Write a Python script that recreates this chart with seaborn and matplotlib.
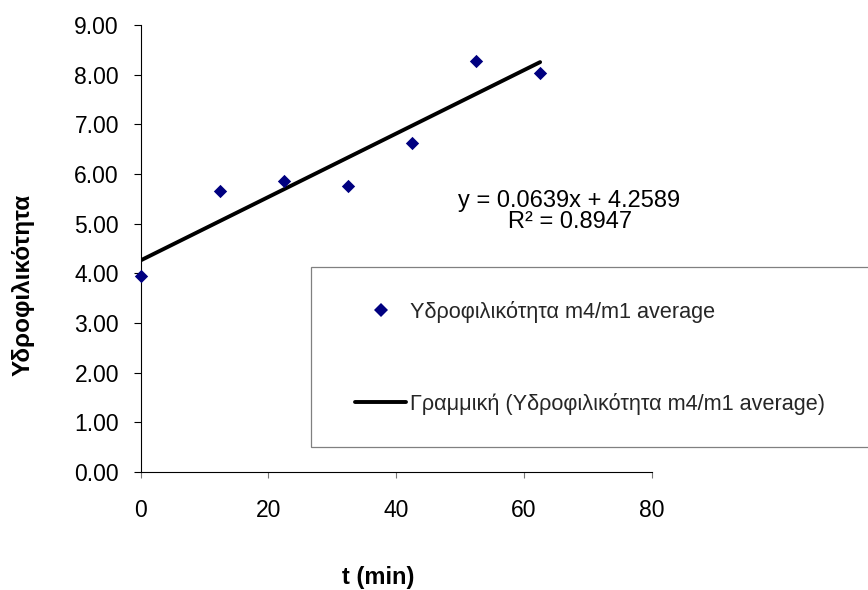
import numpy as np
import pandas as pd
import matplotlib
matplotlib.use("Agg")
import matplotlib.pyplot as plt
import seaborn as sns
from matplotlib.lines import Line2D
from matplotlib.patches import Rectangle

# Measured hydrophilicity (m4/m1 average) against soaking time
time_min = [0, 12.5, 22.5, 32.5, 42.5, 52.5, 62.5]
hydrophilicity = [3.95, 5.66, 5.86, 5.76, 6.63, 8.27, 8.04]

# Linear trend line as reported
trend_slope = 0.0639
trend_intercept = 4.2589
trend_r2 = 0.8947

x_ticks = [0, 20, 40, 60, 80]
y_ticks = [0, 1, 2, 3, 4, 5, 6, 7, 8, 9]

series_label = "Υδροφιλικότητα m4/m1 average"
trend_label = "Γραμμική (Υδροφιλικότητα m4/m1 average)"
x_label = "t (min)"
y_label = "Υδροφιλικότητα"

sns.set_theme(style="white")
plt.rcParams["font.family"] = ["Liberation Sans", "DejaVu Sans"]

W, H = 868, 590
fig = plt.figure(figsize=(W / 100, H / 100), dpi=100)
fig.patch.set_facecolor("white")

# axes frame in pixel terms: x from 140.5 to 652, y from 25 to 472
ax = fig.add_axes([140.5 / W, (H - 472) / H, (652 - 140.5) / W, (472 - 25) / H])
ax.set_facecolor("none")

df = pd.DataFrame({"t": time_min, "h": hydrophilicity})
navy = "#000080"
marker_area = 46
line_w = 2.8

trend_x = np.array([min(time_min), max(time_min)])
trend_y = trend_slope * trend_x + trend_intercept
sns.lineplot(x=trend_x, y=trend_y, color="black", linewidth=line_w, ax=ax,
             zorder=2, legend=False)
sns.scatterplot(data=df, x="t", y="h", marker="D", s=marker_area, color=navy,
                linewidth=0, ax=ax, zorder=3, clip_on=False, legend=False)

ax.set_xlim(0, 80)
ax.set_ylim(0, 9)
ax.set_xticks(x_ticks)
ax.set_xticklabels([str(v) for v in x_ticks])
ax.set_yticks(y_ticks)
ax.set_yticklabels([f"{v:.2f}" for v in y_ticks])
sns.despine(ax=ax)
for side in ("left", "bottom"):
    ax.spines[side].set_color("black")
    ax.spines[side].set_linewidth(0.8)

ax.tick_params(axis="y", direction="out", length=5, width=0.8, color="black",
               labelsize=16.5, labelcolor="black", pad=10.5, left=True)
ax.tick_params(axis="x", direction="out", length=4.3, width=0.8, color="#777777",
               labelsize=16.5, labelcolor="black", pad=15, bottom=True)
ax.grid(False)

ax.set_xlabel(x_label, fontsize=17, fontweight="bold", color="black")
ax.xaxis.label.set_va("baseline")
ax.xaxis.set_label_coords((378.5 - 140.5) / 511.5, (472 - 584) / 447)
ax.set_ylabel(y_label, fontsize=17.5, fontweight="bold", color="black")
ax.yaxis.label.set_va("center")
ax.yaxis.set_label_coords((23 - 140.5) / 511.5, (472 - 285) / 447)

# Trend line equation and coefficient of determination
fig.text(569.5 / W, 1 - 207 / H, f"y = {trend_slope:.4f}x + {trend_intercept:.4f}",
         ha="center", va="baseline", fontsize=17, color="black")
fig.text(570 / W, 1 - 228 / H, f"R² = {trend_r2:.4f}",
         ha="center", va="baseline", fontsize=17, color="black")

# Legend panel
fig.add_artist(Rectangle((310.7 / W, 1 - 447 / H), (880 - 310.7) / W, 180 / H,
                         transform=fig.transFigure, facecolor="white",
                         edgecolor="#808080", linewidth=0.9, zorder=1))

leg_fs = 15.6
fs_px = leg_fs * 100 / 72
marker_handle = Line2D([], [], marker="D", markersize=np.sqrt(marker_area), color=navy,
                       linestyle="none", markeredgewidth=0)
line_handle = Line2D([], [], color="black", linewidth=line_w)

leg1 = fig.legend([marker_handle], [series_label], loc="center left",
                  bbox_to_anchor=(355 / W, 1 - 312 / H), bbox_transform=fig.transFigure,
                  frameon=False, fontsize=leg_fs, handlelength=51 / fs_px,
                  handletextpad=4 / fs_px, borderpad=0, borderaxespad=0)
leg1.set_zorder(5)
leg2 = fig.legend([line_handle], [trend_label], loc="center left",
                  bbox_to_anchor=(355 / W, 1 - 404 / H), bbox_transform=fig.transFigure,
                  frameon=False, fontsize=leg_fs, handlelength=51 / fs_px,
                  handletextpad=4 / fs_px, borderpad=0, borderaxespad=0)
leg2.set_zorder(5)

fig.savefig("out.png", dpi=100, facecolor="white")
